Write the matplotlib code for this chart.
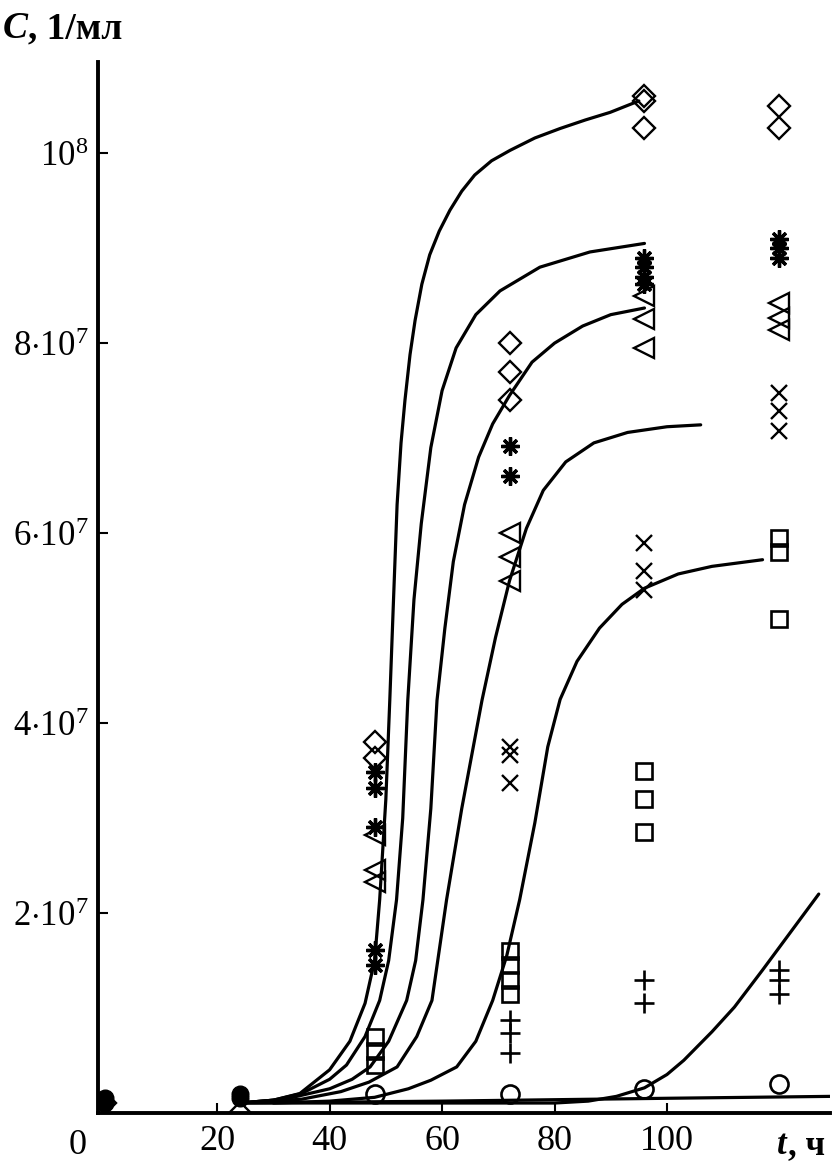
import matplotlib
matplotlib.use("Agg")
import matplotlib.pyplot as plt

plt.rcParams['font.family'] = ['Liberation Serif', 'DejaVu Serif']
plt.rcParams['mathtext.fontset'] = 'custom'
plt.rcParams['mathtext.rm'] = 'Liberation Serif'
plt.rcParams['mathtext.it'] = 'Liberation Serif:italic'
plt.rcParams['mathtext.bf'] = 'Liberation Serif:bold'

# ---- data (C in units of 1e7 per ml, t in hours) ----
diam_t = [0, 24, 48, 48, 72, 72, 72, 96, 96, 96, 120, 120]
diam_c = [0.0, -0.1, 3.80, 3.63, 8.0, 7.7, 7.4, 10.6, 10.55, 10.27, 10.5, 10.27]

star_t = [48, 48, 48, 48, 48, 72, 72, 96, 96, 96, 96, 120, 120, 120]
star_c = [3.48, 3.32, 2.91, 1.61, 1.45, 6.92, 6.60, 8.90, 8.80, 8.70, 8.62, 9.10, 9.00, 8.90]

tri_t = [48, 48, 48, 72, 72, 72, 96, 96, 96, 120, 120, 120]
tri_c = [2.82, 2.45, 2.33, 6.0, 5.75, 5.5, 8.5, 8.25, 7.95, 8.42, 8.26, 8.14]

cross_t = [72, 72, 72, 96, 96, 96, 120, 120, 120]
cross_c = [3.75, 3.66, 3.37, 5.9, 5.6, 5.4, 7.47, 7.29, 7.08]

sq_t = [48, 48, 48, 72, 72, 72, 72, 96, 96, 96, 120, 120, 120]
sq_c = [0.70, 0.55, 0.40, 1.60, 1.45, 1.30, 1.15, 3.5, 3.2, 2.85, 5.95, 5.80, 5.10]

plus_t = [72, 72, 72, 96, 96, 120, 120, 120]
plus_c = [0.87, 0.74, 0.53, 1.30, 1.05, 1.40, 1.30, 1.15]

circ_t = [48, 72, 96, 120]
circ_c = [0.10, 0.10, 0.15, 0.20]

start_t = [0, 0, 24, 24]
start_c = [0.0, 0.05, 0.05, 0.1]

# fitted curves
c1_t = [24, 30, 34.7, 40, 43.6, 46.3, 48, 48.9, 50, 50.7, 51.3, 52, 52.7, 53.4, 54.3, 55.2,
        56.4, 57.8, 59.5, 61.4, 63.5, 65.8, 68.8, 72.1, 76.5, 81, 85.5, 89.9, 95]
c1_c = [0.0, 0.03, 0.1, 0.35, 0.65, 1.05, 1.5, 2.14, 3.2, 4.24, 5.2, 6.3, 6.95, 7.4, 7.88, 8.24,
        8.62, 8.93, 9.18, 9.4, 9.6, 9.77, 9.92, 10.03, 10.16, 10.26, 10.35, 10.43, 10.55]

c2_t = [24, 30, 35, 40, 43, 46.3, 48.9, 50.5, 51.9, 53, 53.9, 55, 56.3, 58, 60, 62.5,
        66, 70.3, 77.4, 86.3, 96]
c2_c = [0.0, 0.03, 0.1, 0.25, 0.4, 0.7, 1.08, 1.5, 2.14, 3.0, 4.24, 5.3, 6.1, 6.9, 7.5, 7.95,
        8.3, 8.55, 8.8, 8.96, 9.05]

c3_t = [24, 32, 40, 44, 47.2, 50.5, 53.7, 55.3, 56.6, 58, 59.1, 60.5, 62, 64, 66.5, 69,
        72, 76, 80, 85, 90, 96]
c3_c = [0.0, 0.04, 0.15, 0.25, 0.38, 0.65, 1.08, 1.5, 2.14, 3.1, 4.24, 5.0, 5.7, 6.3, 6.8, 7.15,
        7.45, 7.8, 8.0, 8.18, 8.3, 8.37]

c4_t = [24, 35, 42, 47, 52, 55.5, 58.2, 60.8, 63.5, 67.1, 69.5, 72, 75, 78, 82, 87,
        93, 100, 106]
c4_c = [0.0, 0.04, 0.12, 0.22, 0.38, 0.7, 1.08, 2.14, 3.1, 4.24, 4.9, 5.5, 6.05, 6.45, 6.75, 6.95,
        7.06, 7.12, 7.14]

c5_t = [30, 40, 48, 54, 58, 62.6, 66, 69, 71.5, 73.8, 76.5, 78.8, 81, 84, 88, 92, 96,
        102, 108, 117]
c5_c = [0.0, 0.02, 0.06, 0.15, 0.24, 0.38, 0.65, 1.08, 1.55, 2.14, 2.95, 3.75, 4.25, 4.65, 5.0,
        5.25, 5.42, 5.57, 5.65, 5.72]

c6_t = [24, 60, 80, 86, 91, 96, 100, 103, 108, 112, 117, 122, 127]
c6_c = [0.0, 0.0, 0.0, 0.02, 0.07, 0.16, 0.3, 0.45, 0.75, 1.01, 1.4, 1.8, 2.2]

c7_t = [24, 60, 100, 129]
c7_c = [0.0, 0.02, 0.05, 0.07]

yticks = [2, 4, 6, 8, 10]
ytick_labels = [r'$2{\cdot}10^7$', r'$4{\cdot}10^7$', r'$6{\cdot}10^7$', r'$8{\cdot}10^7$', r'$10^8$']
xticks = [20, 40, 60, 80, 100]
xtick_labels = ['20', '40', '60', '80', '100']

# ---- figure ----
W, H = 839, 1164
fig = plt.figure(figsize=(W / 100, H / 100), dpi=100)
ax = fig.add_axes([98 / W, 1 - 1113 / H, (830 - 98) / W, (1113 - 62) / H])
ax.set_xlim(-1.2, 129)
ax.set_ylim(-0.105, 10.96)

lw = 2.3
for tt, cc in [(c1_t, c1_c), (c2_t, c2_c), (c3_t, c3_c), (c4_t, c4_c),
               (c5_t, c5_c), (c6_t, c6_c), (c7_t, c7_c)]:
    ax.plot(tt, cc, color='black', lw=lw, solid_capstyle='round',
            solid_joinstyle='round', zorder=3)

mk = dict(linestyle='none', color='black', markerfacecolor='none', zorder=4)
ax.plot(diam_t, diam_c, marker='D', markersize=11, markeredgewidth=1.7, **mk)
ax.plot(star_t, star_c, marker=(8, 2, 0), markersize=13, markeredgewidth=2.4, **mk)
ax.plot(tri_t, tri_c, marker='<', markersize=15, markeredgewidth=1.7, **mk)
ax.plot(cross_t, cross_c, marker='x', markersize=12, markeredgewidth=1.7, **mk)
ax.plot(sq_t, sq_c, marker='s', markersize=12, markeredgewidth=1.9, **mk)
ax.plot(plus_t, plus_c, marker='+', markersize=14, markeredgewidth=1.9, **mk)
ax.plot(circ_t, circ_c, marker='o', markersize=13, markeredgewidth=1.9, **mk)
ax.plot(start_t, start_c, linestyle='none', marker='o', markersize=12,
        color='black', zorder=4)

for s in ['top', 'right']:
    ax.spines[s].set_visible(False)
for s in ['left', 'bottom']:
    ax.spines[s].set_linewidth(2.8)

ax.set_xticks(xticks)
ax.set_xticklabels(xtick_labels)
ax.set_yticks(yticks)
ax.set_yticklabels(ytick_labels)
ax.tick_params(axis='x', direction='in', length=7, width=1.5,
               labelsize=26, pad=9)
ax.tick_params(axis='y', direction='in', length=7, width=1.5,
               labelsize=25, pad=7)

fig.text(78 / W, 1 - 1145 / H, '0', fontsize=26, ha='center', va='center')
fig.text(777 / W, 1 - 1146 / H, 't', fontsize=25, ha='left', va='center',
         style='italic', weight='bold')
fig.text(788 / W, 1 - 1146 / H, ', ч', fontsize=25, ha='left', va='center',
         weight='bold')
fig.text(3 / W, 1 - 29 / H, 'C', fontsize=27, ha='left', va='center',
         style='italic', weight='bold')
fig.text(28 / W, 1 - 29 / H, ', 1/мл', fontsize=27, ha='left', va='center',
         weight='bold')

fig.savefig('out.png', dpi=100)
